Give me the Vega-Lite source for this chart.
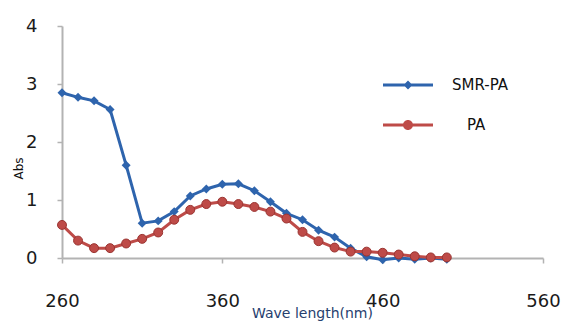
{
  "$schema": "https://vega.github.io/schema/vega-lite/v6.json",
  "autosize": {"type": "none"},
  "padding": {"left": 62, "top": 26, "right": 30, "bottom": 67},
  "width": 481,
  "height": 232,
  "background": "white",
  "config": {
    "view": {"stroke": null},
    "axis": {"grid": false, "labelFont": "DejaVu Sans", "titleFont": "DejaVu Sans", "domainColor": "#b3b3b3", "tickColor": "#b3b3b3", "domainWidth": 2, "tickWidth": 1.5, "labelColor": "#1a1a1a", "labelFlush": false, "labelOverlap": false}
  },
  "data": {
    "values": [
      {"wl": 260, "abs": 2.85, "series": "SMR-PA"},
      {"wl": 270, "abs": 2.77, "series": "SMR-PA"},
      {"wl": 280, "abs": 2.71, "series": "SMR-PA"},
      {"wl": 290, "abs": 2.56, "series": "SMR-PA"},
      {"wl": 300, "abs": 1.6, "series": "SMR-PA"},
      {"wl": 310, "abs": 0.6, "series": "SMR-PA"},
      {"wl": 320, "abs": 0.64, "series": "SMR-PA"},
      {"wl": 330, "abs": 0.8, "series": "SMR-PA"},
      {"wl": 340, "abs": 1.07, "series": "SMR-PA"},
      {"wl": 350, "abs": 1.19, "series": "SMR-PA"},
      {"wl": 360, "abs": 1.27, "series": "SMR-PA"},
      {"wl": 370, "abs": 1.28, "series": "SMR-PA"},
      {"wl": 380, "abs": 1.16, "series": "SMR-PA"},
      {"wl": 390, "abs": 0.97, "series": "SMR-PA"},
      {"wl": 400, "abs": 0.77, "series": "SMR-PA"},
      {"wl": 410, "abs": 0.66, "series": "SMR-PA"},
      {"wl": 420, "abs": 0.48, "series": "SMR-PA"},
      {"wl": 430, "abs": 0.36, "series": "SMR-PA"},
      {"wl": 440, "abs": 0.17, "series": "SMR-PA"},
      {"wl": 450, "abs": 0.02, "series": "SMR-PA"},
      {"wl": 460, "abs": -0.03, "series": "SMR-PA"},
      {"wl": 470, "abs": 0.0, "series": "SMR-PA"},
      {"wl": 480, "abs": -0.02, "series": "SMR-PA"},
      {"wl": 490, "abs": 0.0, "series": "SMR-PA"},
      {"wl": 500, "abs": -0.02, "series": "SMR-PA"},
      {"wl": 260, "abs": 0.57, "series": "PA"},
      {"wl": 270, "abs": 0.3, "series": "PA"},
      {"wl": 280, "abs": 0.17, "series": "PA"},
      {"wl": 290, "abs": 0.17, "series": "PA"},
      {"wl": 300, "abs": 0.25, "series": "PA"},
      {"wl": 310, "abs": 0.33, "series": "PA"},
      {"wl": 320, "abs": 0.44, "series": "PA"},
      {"wl": 330, "abs": 0.66, "series": "PA"},
      {"wl": 340, "abs": 0.83, "series": "PA"},
      {"wl": 350, "abs": 0.93, "series": "PA"},
      {"wl": 360, "abs": 0.97, "series": "PA"},
      {"wl": 370, "abs": 0.93, "series": "PA"},
      {"wl": 380, "abs": 0.88, "series": "PA"},
      {"wl": 390, "abs": 0.8, "series": "PA"},
      {"wl": 400, "abs": 0.68, "series": "PA"},
      {"wl": 410, "abs": 0.45, "series": "PA"},
      {"wl": 420, "abs": 0.29, "series": "PA"},
      {"wl": 430, "abs": 0.18, "series": "PA"},
      {"wl": 440, "abs": 0.11, "series": "PA"},
      {"wl": 450, "abs": 0.11, "series": "PA"},
      {"wl": 460, "abs": 0.09, "series": "PA"},
      {"wl": 470, "abs": 0.06, "series": "PA"},
      {"wl": 480, "abs": 0.03, "series": "PA"},
      {"wl": 490, "abs": 0.01, "series": "PA"},
      {"wl": 500, "abs": 0.01, "series": "PA"}
    ]
  },
  "encoding": {
    "x": {
      "field": "wl", "type": "quantitative",
      "scale": {"domain": [260, 560], "nice": false, "zero": false},
      "axis": {
        "values": [260, 360, 460, 560], "tickSize": 5, "labelFontSize": 18,
        "labelBaseline": "middle", "labelPadding": 38,
        "title": "Wave length(nm)", "titleFontSize": 14, "titleFontWeight": "normal",
        "titleColor": "#26406e", "titleX": 250, "titleY": 55, "titleBaseline": "middle", "titleAlign": "center"
      }
    },
    "y": {
      "field": "abs", "type": "quantitative",
      "scale": {"domain": [0, 4], "nice": false},
      "axis": {
        "values": [0, 1, 2, 3, 4], "tickSize": 5, "labelFontSize": 18, "labelPadding": 20,
        "title": "Abs", "titleFontSize": 12, "titleFontWeight": "normal", "titleColor": "#111111",
        "titleX": -44, "titleY": 142, "titleAngle": -90, "titleAlign": "center", "titleBaseline": "middle"
      }
    },
    "color": {
      "field": "series", "type": "nominal",
      "scale": {"domain": ["SMR-PA", "PA"], "range": ["#2e64ad", "#be4b48"]},
      "legend": {
        "title": null, "orient": "none", "legendX": 336, "legendY": 49, "direction": "vertical",
        "padding": 0, "symbolSize": 400, "labelOffset": 34, "rowPadding": 22,
        "labelFont": "DejaVu Sans", "labelFontSize": 15, "labelColor": "#111111",
        "encode": {
          "labels": {
            "update": {
              "dx": {"signal": "datum.value === 'PA' ? 15 : 0"}
            }
          },
          "symbols": {
            "update": {
              "shape": {"signal": "datum.value === 'SMR-PA' ? 'M-2.5,-0.15H2.5V0.15H-2.5Z M0,-0.45L0.45,0L0,0.45L-0.45,0Z' : 'M-2.5,-0.15H2.5V0.15H-2.5Z M-0.5,0A0.5,0.5 0 1,1 0.5,0A0.5,0.5 0 1,1 -0.5,0Z'"},
              "fill": {"signal": "datum.value === 'SMR-PA' ? '#2e64ad' : '#be4b48'"},
              "stroke": {"value": "transparent"},
              "strokeWidth": {"value": 0},
              "opacity": {"value": 1}
            }
          }
        }
      }
    }
  },
  "layer": [
    {
      "transform": [{"filter": "datum.series === 'SMR-PA'"}],
      "mark": {"type": "line", "strokeWidth": 3, "point": {"shape": "diamond", "size": 80, "filled": true, "opacity": 1}}
    },
    {
      "transform": [{"filter": "datum.series === 'PA'"}],
      "mark": {"type": "line", "strokeWidth": 3, "point": {"shape": "circle", "size": 80, "filled": true, "opacity": 1, "stroke": "#9a3431", "strokeWidth": 1}}
    }
  ]
}
